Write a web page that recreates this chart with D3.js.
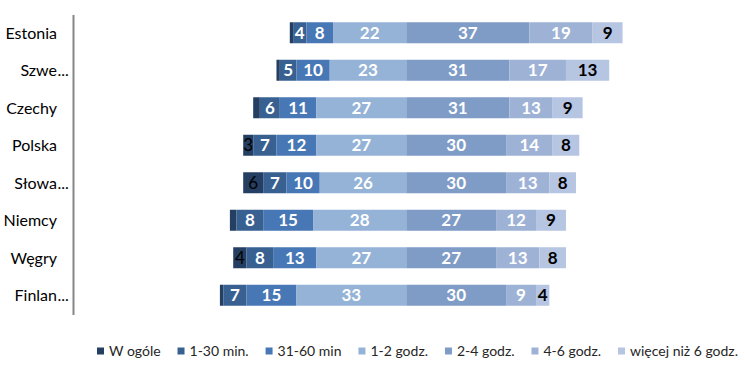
<!doctype html>
<meta charset="utf-8">
<style>
  body { margin: 0; background: #fff; }
  svg text { font-family: Lato, "Open Sans", sans-serif; }
</style>
<body>
<script src="https://cdn.jsdelivr.net/npm/d3@7"></script>
<script>

// countries, top to bottom (labels as shown, truncated ones end with "...")
let countries = ["Estonia", "Szwe...", "Czechy", "Polska", "Słowa...", "Niemcy", "Węgry", "Finlan..."];

let series = ["W ogóle", "1-30 min.", "31-60 min", "1-2 godz.", "2-4 godz.", "4-6 godz.", "więcej niż 6 godz."];
let colors = ["#253f62", "#386192", "#4877b5", "#95b3d7", "#7f9cc7", "#9db2d5", "#b6c5e2"];

// percentages per series, one per country
let wOgole    = [1, 1, 2, 3, 6, 2, 4, 1];
let min1_30   = [4, 5, 6, 7, 7, 8, 8, 7];
let min31_60  = [8, 10, 11, 12, 10, 15, 13, 15];
let godz1_2   = [22, 23, 27, 27, 26, 28, 27, 33];
let godz2_4   = [37, 31, 31, 30, 30, 27, 27, 30];
let godz4_6   = [19, 17, 13, 14, 13, 12, 13, 9];
let godz6plus = [9, 13, 9, 8, 8, 9, 8, 4];

let values = [wOgole, min1_30, min31_60, godz1_2, godz2_4, godz4_6, godz6plus];
let nLeft = 4; // first four series go to the left of zero

let width = 745, height = 369;

let svg = d3.select("body").append("svg")
    .attr("width", width)
    .attr("height", height);

let x = d3.scaleLinear().domain([-100, 100]).range([73.5, 739]);
let y = d3.scaleBand().domain(countries).range([14, 314])
    .paddingInner(0.44).paddingOuter(0.22);

// build segments: left ones stacked outward from 0, right ones from 0
let segs = [];
countries.forEach((c, i) => {
  let leftTotal = 0;
  for (let s = 0; s < nLeft; s++) leftTotal += values[s][i];
  let pos = -leftTotal;
  values.forEach((v, s) => {
    segs.push({country: c, series: s, value: v[i], x0: pos, x1: pos + v[i]});
    pos += v[i];
  });
});

let g = svg.append("g");

g.selectAll("rect")
  .data(segs)
  .enter().append("rect")
    .attr("x", d => x(d.x0))
    .attr("width", d => x(d.x1) - x(d.x0))
    .attr("y", d => y(d.country))
    .attr("height", y.bandwidth())
    .attr("fill", d => colors[d.series]);

g.selectAll("text.val")
  .data(segs.filter(d => d.value >= 3))
  .enter().append("text")
    .attr("class", "val")
    .attr("x", d => (x(d.x0) + x(d.x1)) / 2)
    .attr("y", d => y(d.country) + y.bandwidth() / 2)
    .attr("dy", "0.36em")
    .attr("text-anchor", "middle")
    .style("font-size", "17px")
    .style("font-weight", d => d.series === 0 ? "normal" : "bold")
    .attr("fill", d => (d.series === 0 || d.series === 6) ? "#000" : "#fff")
    .text(d => d.value);

// vertical axis line
svg.append("line")
    .attr("x1", x(-100)).attr("x2", x(-100))
    .attr("y1", y.range()[0] + 1).attr("y2", y.range()[1] + 1)
    .attr("stroke", "#868686")
    .attr("stroke-width", 2);

// category labels, right aligned, ellipsis hanging past the edge
let labelX = 57;
countries.forEach(c => {
  let cy = y(c) + y.bandwidth() / 2;
  let name = c.replace("...", "");
  svg.append("text")
      .attr("x", labelX)
      .attr("y", cy)
      .attr("dy", "0.36em")
      .attr("text-anchor", "end")
      .style("font-size", "16px")
      .attr("fill", "#000")
      .text(name);
  if (c.endsWith("...")) {
    svg.append("text")
        .attr("x", labelX + 0.5)
        .attr("y", cy)
        .attr("dy", "0.36em")
        .style("font-size", "16px")
        .attr("fill", "#000")
        .text("...");
  }
});

// legend
let legend = svg.append("g");
let legY = 351, sq = 7, sqGap = 5;
let items = series.map((s, i) => {
  let t = legend.append("text")
      .attr("y", legY)
      .attr("dy", "0.36em")
      .style("font-size", "14px")
      .attr("fill", "#262626")
      .text(s);
  return {t: t, w: t.node().getComputedTextLength(), i: i};
});
let legStart = 97, legEnd = 738;
let used = d3.sum(items, d => sq + sqGap + d.w);
let gap = (legEnd - legStart - used) / (items.length - 1);
let lx = legStart;
items.forEach(d => {
  legend.append("rect")
      .attr("x", lx).attr("y", legY - sq / 2)
      .attr("width", sq).attr("height", sq)
      .attr("fill", colors[d.i]);
  d.t.attr("x", lx + sq + sqGap);
  lx += sq + sqGap + d.w + gap;
});

</script>
</body>
